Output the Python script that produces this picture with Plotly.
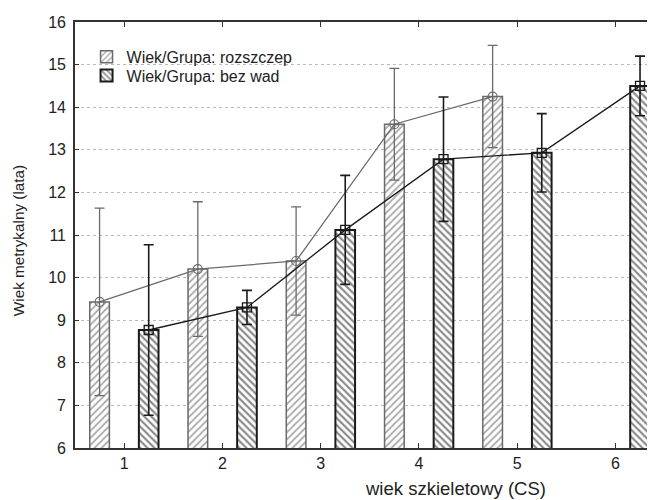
import plotly.graph_objects as go

cs = [1, 2, 3, 4, 5, 6]
rozszczep_mean = [9.43, 10.2, 10.39, 13.6, 14.25, None]
rozszczep_err = [2.2, 1.58, 1.27, 1.31, 1.2, None]
bezwad_mean = [8.77, 9.30, 11.12, 12.78, 12.93, 14.5]
bezwad_err = [2.0, 0.4, 1.28, 1.46, 0.92, 0.7]
y_ticks = [6, 7, 8, 9, 10, 11, 12, 13, 14, 15, 16]

name_r = "Wiek/Grupa: rozszczep"
name_b = "Wiek/Grupa: bez wad"

BAR_W = 0.2
OFF = 0.25

FONT = "Liberation Sans, Arial, sans-serif"
GRAY = "#6a6a6a"
DARK = "#1a1a1a"

fig = go.Figure()

r_x = [c for c, v in zip(cs, rozszczep_mean) if v is not None]
r_y = [v for v in rozszczep_mean if v is not None]
r_e = [e for e in rozszczep_err if e is not None]

fig.add_trace(go.Bar(
    x=r_x, y=r_y, name=name_r, width=BAR_W, offset=-OFF - BAR_W / 2, legend="legend",
    marker=dict(color="white", line=dict(color=GRAY, width=1.5),
                pattern=dict(shape="/", size=5, solidity=0.35, fgcolor="#555555", bgcolor="white")),
))
fig.add_trace(go.Bar(
    x=cs, y=bezwad_mean, name=name_b, width=BAR_W, offset=OFF - BAR_W / 2, legend="legend2",
    marker=dict(color="white", line=dict(color=DARK, width=2),
                pattern=dict(shape="\\", size=5, solidity=0.45, fgcolor=DARK, bgcolor="white")),
))

fig.add_trace(go.Scatter(
    x=[c - OFF for c in r_x], y=r_y, mode="lines+markers", showlegend=False,
    line=dict(color=GRAY, width=1.3),
    marker=dict(symbol="circle-open", size=9, color=GRAY, line=dict(width=1.2)),
    error_y=dict(type="data", array=r_e, visible=True, color=GRAY, thickness=1.3, width=5),
))
fig.add_trace(go.Scatter(
    x=[c + OFF for c in cs], y=bezwad_mean, mode="lines+markers", showlegend=False,
    line=dict(color=DARK, width=1.3),
    marker=dict(symbol="square-open", size=9, color=DARK, line=dict(width=1.3)),
    error_y=dict(type="data", array=bezwad_err, visible=True, color=DARK, thickness=1.6, width=5),
))

leg_common = dict(xanchor="left", yanchor="middle", bgcolor="rgba(0,0,0,0)",
                  font=dict(size=16, color="#222"), itemwidth=30)

# page has an 8px body margin; figure is sized so the plot area lands at x 75..655, y 22..448
fig.update_layout(
    width=647, height=492,
    margin=dict(l=67, r=0, t=14, b=52),
    paper_bgcolor="white", plot_bgcolor="white",
    font=dict(family=FONT, color="#222"),
    barmode="overlay",
    legend=dict(x=0.020, y=0.918, **leg_common),
    legend2=dict(x=0.020, y=0.874, **leg_common),
    xaxis=dict(range=[0.5, 6.382], tickvals=cs, ticktext=[str(c) for c in cs],
               ticks="inside", ticklen=5, tickcolor="#333", tickwidth=1.3,
               showline=True, linecolor="#333", linewidth=1.6, mirror="ticks",
               showgrid=False, zeroline=False, tickfont=dict(size=16, color="#222")),
    yaxis=dict(range=[6, 16], tickvals=y_ticks,
               ticks="inside", ticklen=4, tickcolor="#333",
               showline=True, linecolor="#333", linewidth=1.6, mirror=True,
               showgrid=True, gridcolor="#b8b8b8", griddash="dot", gridwidth=1,
               zeroline=False, ticklabelstandoff=4, tickfont=dict(size=16, color="#222")),
    annotations=[
        dict(text="wiek szkieletowy (CS)", xref="paper", yref="paper", x=0.659, y=-0.096,
             xanchor="center", yanchor="middle", showarrow=False,
             font=dict(size=18.5, color="#222")),
        dict(text="Wiek metrykalny (lata)", xref="paper", yref="paper", x=-0.0966, y=0.486,
             xanchor="center", yanchor="middle", showarrow=False, textangle=-90,
             font=dict(size=15.3, color="#222", family="Liberation Sans Narrow, Arial Narrow, Liberation Sans")),
    ],
)

fig.write_html("out.html")
